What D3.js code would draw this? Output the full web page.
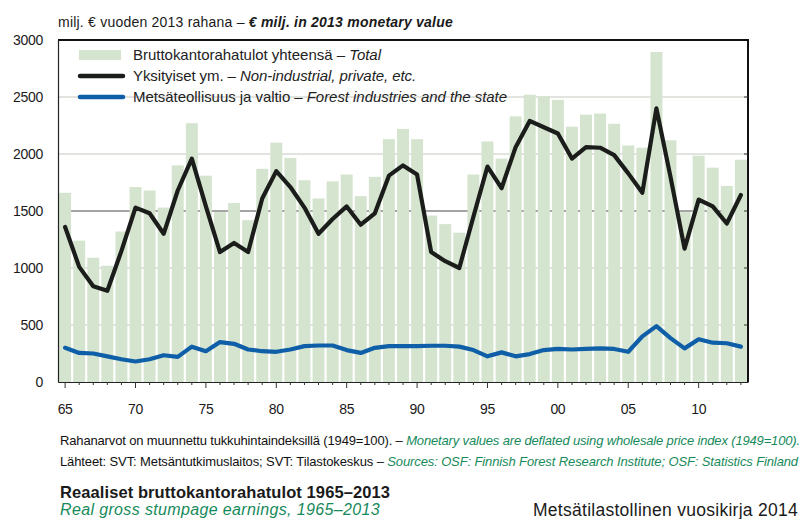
<!DOCTYPE html>
<html>
<head>
<meta charset="utf-8">
<script src="https://cdn.jsdelivr.net/npm/d3@7"></script>
<style>
  html, body { margin: 0; padding: 0; background: #fff; }
  svg { display: block; font-family: "Liberation Sans", Arial, Helvetica, sans-serif; }
</style>
</head>
<body>
<svg id="chart" width="803" height="519"></svg>
<script>
const years = [1965,1966,1967,1968,1969,1970,1971,1972,1973,1974,
  1975,1976,1977,1978,1979,1980,1981,1982,1983,1984,
  1985,1986,1987,1988,1989,1990,1991,1992,1993,1994,
  1995,1996,1997,1998,1999,2000,2001,2002,2003,2004,
  2005,2006,2007,2008,2009,2010,2011,2012,2013];

const totalValues = [1660,1240,1090,1020,1320,1710,1680,1530,1900,2270,
  1810,1490,1570,1420,1870,2100,1965,1770,1610,1760,
  1820,1630,1800,2130,2220,2130,1460,1385,1310,1820,
  2110,1960,2330,2520,2505,2475,2240,2345,2355,2265,
  2075,2055,2895,2120,1490,1985,1880,1720,1950];

const privateValues = [1360,1010,840,800,1150,1530,1480,1300,1680,1960,
  1540,1140,1220,1140,1610,1850,1710,1530,1300,1430,
  1540,1380,1480,1810,1900,1820,1140,1060,1000,1450,
  1890,1700,2060,2290,2235,2180,1960,2060,2055,1990,
  1830,1660,2400,1800,1170,1600,1540,1390,1640];

const industryValues = [300,255,250,225,200,180,200,235,220,310,
  270,350,335,285,270,265,285,315,320,320,
  280,255,300,315,315,315,318,318,310,280,
  225,260,225,245,280,290,285,290,295,290,
  265,400,490,385,295,375,345,340,310];

const yTicks = [0,500,1000,1500,2000,2500,3000];
const xLabelYears = [1965,1970,1975,1980,1985,1990,1995,2000,2005,2010];

const seriesLabels = [
  {fi: "Bruttokantorahatulot yhteensä – ", en: "Total"},
  {fi: "Yksityiset ym. – ", en: "Non-industrial, private, etc."},
  {fi: "Metsäteollisuus ja valtio – ", en: "Forest industries and the state"}
];

const COL_BAR = "#d5e4cf";
const COL_PRIV = "#1b1d1b";
const COL_IND = "#0f5ea8";
const COL_GREEN = "#168a5a";

const svg = d3.select("#chart");
const L = 58, R = 748, T = 40, B = 382;

// stretch/condense a text element so it spans [x0, x1]
function fit(sel, x0, x1) {
  sel.attr("letter-spacing", 0);
  const w = sel.node().getComputedTextLength();
  const n = sel.text().length;
  sel.attr("letter-spacing", ((x1 - x0) - w) / n);
}

const x = d3.scaleBand().domain(years).range([L, R]).paddingInner(0.15).paddingOuter(0.08);
const y = d3.scaleLinear().domain([0, 3000]).range([B, T]);

// gridlines (behind bars)
svg.append("g").selectAll("line").data([500,1000,1500,2000,2500]).join("line")
  .attr("x1", L).attr("x2", R)
  .attr("y1", d => y(d)).attr("y2", d => y(d))
  .attr("stroke", d => d === 1500 ? "#4a4a4a" : "#c4c8c0")
  .attr("stroke-width", 1);

// bars
svg.append("g").selectAll("rect").data(years).join("rect")
  .attr("x", d => x(d))
  .attr("width", x.bandwidth())
  .attr("y", (d, i) => y(totalValues[i]))
  .attr("height", (d, i) => y(0) - y(totalValues[i]))
  .attr("fill", COL_BAR);

// lines
const line = (vals) => d3.line()
  .x((d, i) => x(years[i]) + x.bandwidth() / 2)
  .y(d => y(d))(vals);

svg.append("path").attr("d", line(industryValues))
  .attr("fill", "none").attr("stroke", COL_IND).attr("stroke-width", 4.2)
  .attr("stroke-linejoin", "round").attr("stroke-linecap", "round");
svg.append("path").attr("d", line(privateValues))
  .attr("fill", "none").attr("stroke", COL_PRIV).attr("stroke-width", 4.2)
  .attr("stroke-linejoin", "round").attr("stroke-linecap", "round");

// frame
svg.append("line").attr("x1", L).attr("x2", R).attr("y1", T).attr("y2", T)
  .attr("stroke", "#111").attr("stroke-width", 2);
svg.append("line").attr("x1", R).attr("x2", R).attr("y1", T - 1).attr("y2", B)
  .attr("stroke", "#111").attr("stroke-width", 2);

// right inner ticks
svg.append("g").selectAll("line").data(yTicks.slice(1, -1)).join("line")
  .attr("x1", R - 4).attr("x2", R).attr("y1", d => y(d)).attr("y2", d => y(d))
  .attr("stroke", "#333");

// left axis
const yAxis = svg.append("g").attr("transform", `translate(${L},0)`)
  .call(d3.axisLeft(y).tickValues(yTicks).tickSize(0).tickPadding(15).tickFormat(d3.format("d")));
yAxis.select(".domain").attr("stroke", "#222").attr("stroke-width", 1.2);
yAxis.selectAll("text").attr("font-size", 14).attr("fill", "#1a1a1a")
  .attr("font-family", "Liberation Sans, Arial, sans-serif").attr("letter-spacing", -0.3);

// bottom axis
const xAxis = svg.append("g").attr("transform", `translate(0,${B})`)
  .call(d3.axisBottom(x).tickValues(xLabelYears).tickSize(0).tickPadding(22)
    .tickFormat(d => String(d % 100).padStart(2, "0")));
xAxis.select(".domain").attr("stroke", "#222").attr("stroke-width", 1.2);
xAxis.selectAll("text").attr("font-size", 14).attr("fill", "#1a1a1a")
  .attr("font-family", "Liberation Sans, Arial, sans-serif").attr("letter-spacing", -0.3);

// year ticks
svg.append("g").selectAll("line").data(years).join("line")
  .attr("x1", d => x(d) + x.bandwidth() / 2).attr("x2", d => x(d) + x.bandwidth() / 2)
  .attr("y1", B).attr("y2", d => B + (d % 5 === 0 ? 6 : 3))
  .attr("stroke", "#333").attr("stroke-width", 1);

// unit title
const ut = svg.append("text").attr("x", 58).attr("y", 27).attr("font-size", 14)
  .attr("fill", "#1a1a1a");
ut.append("tspan").text("milj. € vuoden 2013 rahana – ");
ut.append("tspan").attr("font-style", "italic").attr("font-weight", "bold").text("€ milj. in 2013 monetary value");
fit(ut, 58, 453);

// legend
const lg = svg.append("g");
const legY = [55, 76, 97];
const legEnd = [381, 416, 507];
lg.append("rect").attr("x", 79).attr("y", legY[0] - 5).attr("width", 42).attr("height", 10).attr("fill", COL_BAR);
lg.append("line").attr("x1", 80).attr("x2", 123).attr("y1", legY[1]).attr("y2", legY[1])
  .attr("stroke", COL_PRIV).attr("stroke-width", 4.5).attr("stroke-linecap", "round");
lg.append("line").attr("x1", 80).attr("x2", 123).attr("y1", legY[2]).attr("y2", legY[2])
  .attr("stroke", COL_IND).attr("stroke-width", 4.5).attr("stroke-linecap", "round");
seriesLabels.forEach((s, i) => {
  const t = lg.append("text").attr("x", 133).attr("y", legY[i] + 5).attr("font-size", 15)
    .attr("fill", "#222");
  t.append("tspan").text(s.fi);
  t.append("tspan").attr("font-style", "italic").text(s.en);
  fit(t, 133, legEnd[i]);
});

// notes
const n1 = svg.append("text").attr("x", 60).attr("y", 445).attr("font-size", 13)
  .attr("fill", "#111");
n1.append("tspan").text("Rahanarvot on muunnettu tukkuhintaindeksillä (1949=100). – ");
n1.append("tspan").attr("fill", COL_GREEN).attr("font-style", "italic")
  .text("Monetary values are deflated using wholesale price index (1949=100).");
fit(n1, 60, 800);

const n2 = svg.append("text").attr("x", 60).attr("y", 466).attr("font-size", 13)
  .attr("fill", "#111");
n2.append("tspan").text("Lähteet: SVT: Metsäntutkimuslaitos; SVT: Tilastokeskus – ");
n2.append("tspan").attr("fill", COL_GREEN).attr("font-style", "italic")
  .text("Sources: OSF: Finnish Forest Research Institute; OSF: Statistics Finland");
fit(n2, 60, 798);

const t1 = svg.append("text").attr("x", 60).attr("y", 498).attr("font-size", 16.5).attr("font-weight", "bold")
  .attr("fill", "#1a1a1a")
  .text("Reaaliset bruttokantorahatulot 1965–2013");
fit(t1, 60, 390);
const t2 = svg.append("text").attr("x", 60).attr("y", 515).attr("font-size", 16).attr("font-style", "italic")
  .attr("fill", COL_GREEN)
  .text("Real gross stumpage earnings, 1965–2013");
fit(t2, 60, 380);
const t3 = svg.append("text").attr("x", 533).attr("y", 516).attr("font-size", 17.5)
  .attr("fill", "#1a1a1a")
  .text("Metsätilastollinen vuosikirja 2014");
fit(t3, 533, 798);
</script>
</body>
</html>
